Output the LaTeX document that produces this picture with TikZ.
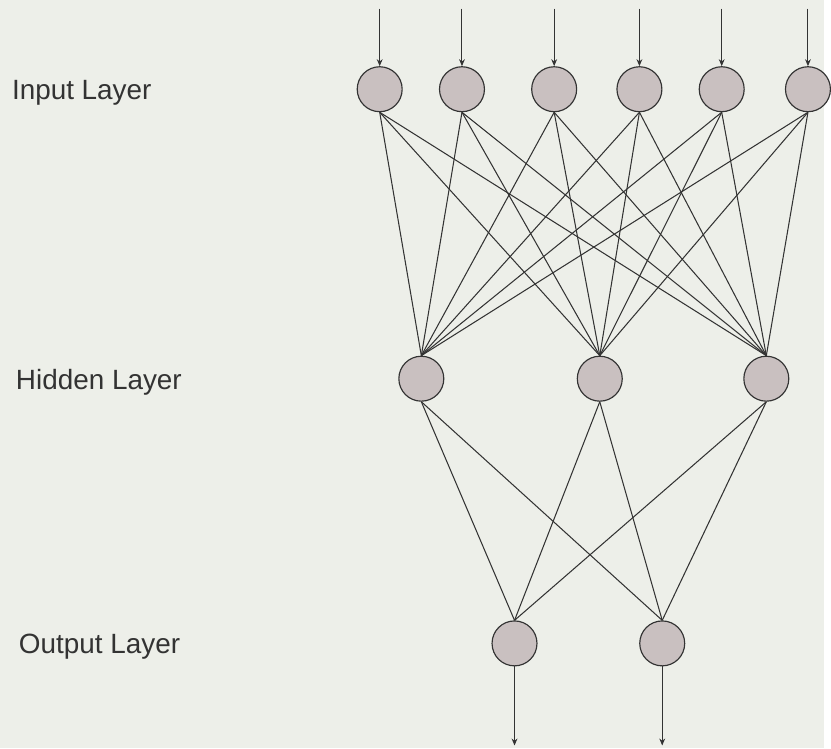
\documentclass[tikz,border=0pt]{standalone}
\usepackage{fontspec}
\setmainfont{Liberation Sans}
\usetikzlibrary{arrows.meta,calc}
\definecolor{paper}{HTML}{EDEFE9}
\definecolor{neuron}{HTML}{C9C0C0}
\definecolor{ink}{HTML}{333333}
\tikzset{
	unit/.style={circle, draw=ink, line width=1pt, fill=neuron, minimum size=1.36cm, inner sep=0pt},
	wire/.style={draw=ink, line width=0.9pt},
	feed/.style={wire, -{Stealth[length=6pt,width=5pt]}},
	layername/.style={anchor=base west, text=ink, font=\fontsize{24}{28}\selectfont}
}

\begin{document}
\begin{tikzpicture}[x=0.03cm, y=-0.03cm]
			%%%%% START %%%%%
			
			\fill[paper] (0, 0) rectangle (831, 755);
			
			\node[layername] (lin) at (8, 100) {Input Layer};
			\node[layername] (lhid) at (12, 393) {Hidden Layer};
			\node[layername] (lout) at (15, 659) {Output Layer};
			
			\node[unit] (i1) at (383, 90) {};
			\node[unit] (i2) at (466, 90) {};
			\node[unit] (i3) at (559, 90) {};
			\node[unit] (i4) at (645, 90) {};
			\node[unit] (i5) at (728, 90) {};
			\node[unit] (i6) at (815, 90) {};
			
			\node[unit] (h1) at (425, 382) {};
			\node[unit] (h2) at (605, 382) {};
			\node[unit] (h3) at (773, 382) {};
			
			\node[unit] (o1) at (519, 649) {};
			\node[unit] (o2) at (668, 649) {};
			
			\foreach \i in {1,...,6} {
				\coordinate (t\i) at ($(i\i.north)+(0,-58)$);
				\draw[feed] (t\i) -- (i\i.north);
				\foreach \h in {1,2,3}
					\draw[wire] (i\i.south) -- (h\h.north);
			}
			
			\foreach \h in {1,2,3}
				\foreach \o in {1,2}
					\draw[wire] (h\h.south) -- (o\o.north);
			
			\coordinate (b1) at (519, 752);
			\coordinate (b2) at (668, 752);
			\draw[feed] (o1.south) -- (b1);
			\draw[feed] (o2.south) -- (b2);
			
			%%%%% END %%%%%
\end{tikzpicture}
\end{document}
